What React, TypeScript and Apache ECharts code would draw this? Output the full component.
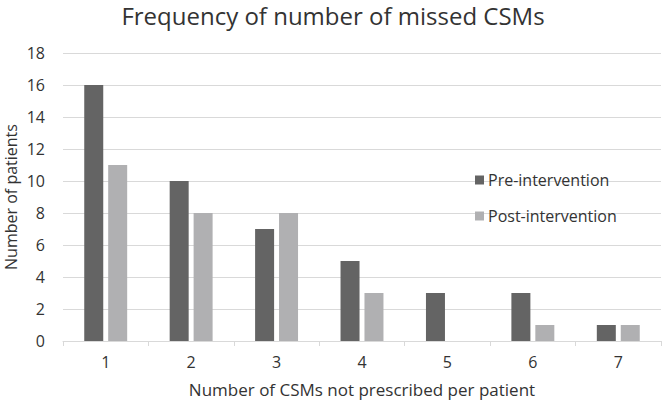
import React, { useEffect, useRef } from "react";
import * as echarts from "echarts";

const categories = ["1", "2", "3", "4", "5", "6", "7"];
const preIntervention = [16, 10, 7, 5, 3, 3, 1];
const postIntervention = [11, 8, 8, 3, 0, 1, 1];
const yTicks = { min: 0, max: 18, interval: 2 };

const FONT = "'Open Sans', sans-serif";

export default function App() {
  const ref = useRef<HTMLDivElement>(null);
  useEffect(() => {
    if (!ref.current) return;
    const chart = echarts.init(ref.current, undefined, { renderer: "svg" });
    chart.setOption({
      animation: false,
      backgroundColor: "#ffffff",
      textStyle: { fontFamily: FONT },
      title: {
        text: "Frequency of number of missed CSMs",
        left: "center",
        top: 3,
        padding: 0,
        textStyle: { fontFamily: FONT, fontSize: 24, fontWeight: "normal", color: "#333333" },
      },
      legend: {
        orient: "vertical",
        left: 470,
        top: 167,
        itemWidth: 9,
        itemHeight: 9,
        itemGap: 20,
        icon: "rect",
        textStyle: { fontFamily: FONT, fontSize: 16, color: "#333333", padding: [0, 0, 0, -1] },
        data: ["Pre-intervention", "Post-intervention"],
      },
      grid: { left: 63, right: 5, top: 53, bottom: 62, containLabel: false, outerBoundsMode: "none" },
      xAxis: {
        type: "category",
        data: categories,
        name: "Number of CSMs not prescribed per patient",
        nameLocation: "middle",
        nameGap: 40,
        nameMoveOverlap: false,
        nameTextStyle: { fontFamily: FONT, fontSize: 17, color: "#333333" },
        axisLine: { lineStyle: { color: "#d9d9d9", width: 1 } },
        axisTick: { show: true, length: 5, lineStyle: { color: "#d9d9d9" } },
        axisLabel: { fontFamily: FONT, fontSize: 16, color: "#333333", margin: 13 },
      },
      yAxis: {
        type: "value",
        min: yTicks.min,
        max: yTicks.max,
        interval: yTicks.interval,
        name: "Number of patients",
        nameLocation: "middle",
        nameGap: 44,
        nameMoveOverlap: false,
        nameTextStyle: { fontFamily: FONT, fontSize: 16, color: "#333333" },
        axisLine: { show: false },
        axisTick: { show: false },
        axisLabel: { fontFamily: FONT, fontSize: 16, color: "#333333", margin: 18 },
        splitLine: { lineStyle: { color: "#d9d9d9", width: 1 } },
      },
      series: [
        {
          name: "Pre-intervention",
          type: "bar",
          data: preIntervention,
          barWidth: 19,
          barGap: "26%",
          itemStyle: { color: "#646464" },
        },
        {
          name: "Post-intervention",
          type: "bar",
          data: postIntervention,
          barWidth: 19,
          itemStyle: { color: "#b0b0b2" },
        },
      ],
    });
    return () => chart.dispose();
  }, []);
  return <div ref={ref} style={{ width: 666, height: 403, position: "absolute", left: 0, top: 0 }} />;
}
